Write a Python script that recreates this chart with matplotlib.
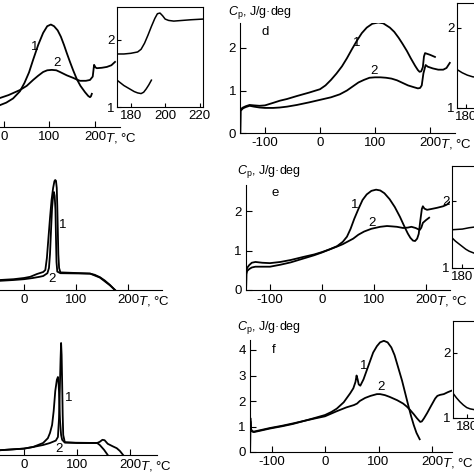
import matplotlib
matplotlib.use("Agg")
import matplotlib.pyplot as plt

plt.rcParams['font.family'] = ['Liberation Sans', 'DejaVu Sans']
plt.rcParams['mathtext.fontset'] = 'custom'
plt.rcParams['mathtext.rm'] = 'Liberation Sans'
plt.rcParams['mathtext.it'] = 'Liberation Sans:italic'
plt.rcParams['font.size'] = 10
plt.rcParams['axes.unicode_minus'] = False

# ---- data (T in degC, Cp in J/g.deg) ----
x_ticks = [-100, 0, 100, 200]
x_tick_labels = ['-100', '0', '100', '200']
inset_x_ticks = [180, 200, 220]
inset_y_ticks = [1, 2]

# panel a (left top, cropped)
a1_T = [-20, -9, 5, 20, 35, 45, 55, 64, 75, 86, 95, 103, 110, 118, 125, 132, 138, 145, 152, 160, 168, 178, 185, 189, 191, 193]
a1_cp = [0.45, 0.52, 0.58, 0.68, 0.85, 1.05, 1.3, 1.6, 1.95, 2.24, 2.4, 2.44, 2.4, 2.3, 2.15, 1.95, 1.76, 1.55, 1.35, 1.14, 0.98, 0.83, 0.74, 0.71, 0.73, 0.79]
a2_T = [-20, -9, 10, 35, 50, 64, 75, 86, 95, 105, 115, 123, 138, 152, 160, 167, 180, 189, 195, 198, 201, 204, 215, 226, 236, 244]
a2_cp = [0.66, 0.69, 0.76, 0.88, 0.98, 1.12, 1.22, 1.31, 1.35, 1.36, 1.35, 1.31, 1.23, 1.17, 1.13, 1.1, 1.1, 1.12, 1.2, 1.48, 1.42, 1.4, 1.41, 1.43, 1.47, 1.55]
a_in_up_T = [172, 176, 180, 184, 186, 188, 190, 192, 194, 195.5, 197, 198.5, 200, 202, 205, 210, 215, 222]
a_in_up_cp = [1.79, 1.79, 1.8, 1.82, 1.86, 1.95, 2.07, 2.2, 2.32, 2.39, 2.4, 2.36, 2.31, 2.29, 2.28, 2.29, 2.3, 2.31]
a_in_lo_T = [172, 174, 176, 178, 180, 182, 184, 186, 187.5, 189, 190.5, 192]
a_in_lo_cp = [1.40, 1.36, 1.32, 1.29, 1.26, 1.23, 1.21, 1.2, 1.22, 1.27, 1.33, 1.40]

# panel b (left middle)
b1_T = [-60, -46, -20, 0, 12, 25, 37, 41, 44, 47, 50, 53, 56, 58.5, 60, 61.5, 63, 64, 65, 66, 67.5, 70, 90, 110, 127, 136, 146, 155, 165, 175]
b1_y = [0.22, 0.25, 0.27, 0.3, 0.33, 0.4, 0.45, 0.5, 0.8, 1.3, 1.8, 2.25, 2.55, 2.72, 2.75, 2.73, 2.55, 2.1, 1.5, 0.9, 0.55, 0.44, 0.43, 0.42, 0.41, 0.38, 0.32, 0.24, 0.13, 0.0]
b2_T = [-60, -46, -20, 0, 17, 30, 37, 45, 48, 50, 52, 54, 56, 57.5, 59, 60.5, 61.5, 62.5, 64, 70, 127, 146, 165, 175]
b2_y = [0.2, 0.23, 0.25, 0.27, 0.3, 0.33, 0.35, 0.42, 0.55, 0.9, 1.5, 2.05, 2.35, 2.45, 2.35, 2.0, 1.3, 0.7, 0.46, 0.42, 0.41, 0.31, 0.12, 0.0]

# panel c (left bottom)
c1_T = [-60, -45, 0, 17, 36, 49, 60, 64, 66, 67.5, 69, 70, 71, 72, 73, 74, 77, 100, 138, 143, 151, 158]
c1_y = [0.1, 0.12, 0.16, 0.2, 0.25, 0.3, 0.36, 0.45, 0.9, 1.6, 2.4, 2.8, 2.5, 1.8, 1.0, 0.5, 0.32, 0.3, 0.3, 0.25, 0.13, 0.0]
c2_T = [-60, -45, 0, 17, 36, 45, 49, 53, 56, 59, 62, 64, 65, 66, 67, 68, 70, 72, 77, 138, 143, 148, 152, 158, 167, 175, 181, 187]
c2_y = [0.1, 0.12, 0.16, 0.2, 0.3, 0.42, 0.55, 0.75, 1.1, 1.6, 1.88, 1.95, 1.85, 1.6, 1.2, 0.85, 0.5, 0.38, 0.31, 0.3, 0.33, 0.38, 0.37, 0.28, 0.22, 0.17, 0.1, 0.0]

# panel d
d1_T = [-145, -144.5, -140, -135, -128, -120, -110, -100, -85, -73, -60, -42, -20, 0, 10, 20, 30, 40, 49, 58, 67, 76, 85, 95, 106, 115, 127, 135, 143, 150, 158, 165, 173, 178, 181, 184, 187, 189, 191, 200, 209]
d1_cp = [0, 0.56, 0.6, 0.63, 0.66, 0.65, 0.64, 0.65, 0.71, 0.76, 0.8, 0.87, 0.95, 1.03, 1.12, 1.25, 1.4, 1.57, 1.76, 1.97, 2.17, 2.35, 2.48, 2.57, 2.6, 2.58, 2.48, 2.38, 2.24, 2.1, 1.93, 1.76, 1.58, 1.48, 1.44, 1.45, 1.55, 1.8, 1.88, 1.84, 1.79]
d2_T = [-145, -144.5, -140, -135, -128, -120, -110, -100, -85, -73, -60, -42, -20, 0, 20, 36, 49, 60, 70, 80, 90, 100, 110, 120, 130, 140, 150, 160, 170, 178, 182, 185, 188, 192, 196, 205, 215, 224, 230, 236]
d2_cp = [0, 0.52, 0.58, 0.61, 0.64, 0.62, 0.6, 0.59, 0.59, 0.6, 0.62, 0.66, 0.72, 0.78, 0.84, 0.91, 1.0, 1.1, 1.19, 1.25, 1.3, 1.31, 1.31, 1.3, 1.28, 1.24, 1.18, 1.12, 1.08, 1.05, 1.06, 1.12, 1.4, 1.6, 1.56, 1.52, 1.49, 1.49, 1.53, 1.65]
d_in_T = [175, 178, 181, 184, 187, 190, 195]
d_in_cp = [1.48, 1.44, 1.41, 1.39, 1.38, 1.40, 1.5]

# panel e
e1_T = [-146, -145.5, -144, -140, -135, -128, -115, -100, -80, -60, -35, -15, 0, 15, 29, 40, 48, 55, 62, 70, 78, 86, 95, 104, 112, 120, 130, 140, 150, 158, 165, 170, 175, 179, 183, 186, 189, 192, 194, 197, 202, 210, 221, 233, 240, 246]
e1_cp = [0, 0.45, 0.56, 0.63, 0.69, 0.71, 0.69, 0.68, 0.71, 0.76, 0.84, 0.9, 0.96, 1.03, 1.11, 1.22, 1.35, 1.55, 1.8, 2.05, 2.28, 2.42, 2.51, 2.54, 2.52, 2.45, 2.3, 2.1, 1.85, 1.62, 1.43, 1.32, 1.25, 1.24, 1.3, 1.42, 1.75, 2.05, 2.12, 2.06, 2.03, 2.05, 2.08, 2.12, 2.16, 2.23]
e2_T = [-146, -145.5, -144, -140, -135, -128, -115, -100, -80, -60, -35, -15, 0, 15, 29, 40, 50, 60, 70, 81, 95, 112, 125, 135, 144, 156, 165, 172, 180, 188, 191, 194, 200, 206]
e2_cp = [0, 0.4, 0.48, 0.53, 0.57, 0.59, 0.59, 0.59, 0.64, 0.7, 0.8, 0.88, 0.95, 1.03, 1.1, 1.16, 1.23, 1.3, 1.4, 1.48, 1.55, 1.6, 1.62, 1.61, 1.6, 1.57, 1.58, 1.6, 1.57, 1.52, 1.58, 1.7, 1.77, 1.83]
e_in_up_T = [174, 177, 180, 184, 187, 195]
e_in_up_cp = [1.57, 1.575, 1.58, 1.6, 1.61, 1.64]
e_in_lo_T = [174, 176, 178, 180, 182, 184, 187, 192]
e_in_lo_cp = [1.45, 1.4, 1.36, 1.32, 1.28, 1.25, 1.22, 1.2]

# panel f
f1_T = [-140, -139.5, -138.5, -136, -133, -120, -103, -80, -60, -39, -20, 0, 12, 22, 35, 47, 53, 57, 59, 61, 63, 66, 72, 78, 84, 90, 97, 103, 110, 117, 124, 130, 137, 144, 150, 156, 161, 166, 171, 177]
f1_cp = [0, 1.33, 0.9, 0.82, 0.8, 0.86, 0.94, 1.03, 1.12, 1.22, 1.33, 1.45, 1.57, 1.7, 1.95, 2.3, 2.5, 2.75, 3.0, 2.85, 2.65, 2.6, 2.85, 3.2, 3.55, 3.9, 4.15, 4.3, 4.36, 4.3, 4.1, 3.8, 3.3, 2.8, 2.3, 1.8, 1.4, 1.05, 0.75, 0.5]
f2_T = [-140, -139.5, -138.5, -136, -133, -120, -103, -80, -60, -39, -20, 0, 22, 40, 54, 60, 65, 75, 85, 97, 103, 112, 121, 135, 146, 153, 159, 166, 172, 178, 181, 185, 191, 198, 206, 210, 215, 222, 230, 236]
f2_cp = [0, 1.2, 0.88, 0.8, 0.78, 0.84, 0.92, 1.01, 1.1, 1.22, 1.31, 1.4, 1.6, 1.75, 1.84, 1.9, 2.0, 2.12, 2.2, 2.27, 2.27, 2.23, 2.16, 2.03, 1.9, 1.78, 1.65, 1.48, 1.32, 1.18, 1.2, 1.32, 1.53, 1.8, 2.1, 2.2, 2.24, 2.27, 2.35, 2.4]
f_in_T = [172, 174, 176, 178, 180, 182, 184, 188, 192]
f_in_cp = [1.38, 1.31, 1.25, 1.2, 1.16, 1.14, 1.13, 1.12, 1.15]

W = 474.0
LW = 1.3
FS = 9.5
fig = plt.figure(figsize=(4.74, 4.74), dpi=100)


def add_px(left, top, right, bottom):
    return fig.add_axes([left / W, 1 - bottom / W, (right - left) / W, (bottom - top) / W])


def main_axes(xlim, x0, sx, ylim, y0, sy, yticks=None):
    ax = add_px(x0 + sx * xlim[0], y0 - sy * ylim[1], x0 + sx * xlim[1], y0 - sy * ylim[0])
    ax.set_xlim(xlim)
    ax.set_ylim(ylim)
    ax.patch.set_alpha(0)
    for s in ['top', 'right']:
        ax.spines[s].set_visible(False)
    for s in ['left', 'bottom']:
        ax.spines[s].set_linewidth(0.8)
    ax.tick_params(direction='in', length=4, width=0.8, labelsize=FS, pad=3)
    ax.set_xticks(x_ticks, x_tick_labels)
    if yticks is not None:
        ax.set_yticks(yticks, [str(v) for v in yticks])
    else:
        ax.set_yticks([])
    ax.annotate('$T$, °C', xy=(200, 0), xycoords=('data', 'axes fraction'),
                xytext=(7, -3), textcoords='offset points', ha='left', va='top', fontsize=FS)
    return ax


def inset_axes(left, top, right, bottom, xlim, ylim):
    ax = add_px(left, top, right, bottom)
    ax.set_xlim(xlim)
    ax.set_ylim(ylim)
    for s in ax.spines.values():
        s.set_linewidth(0.8)
    ax.tick_params(direction='in', length=3, width=0.8, labelsize=FS, pad=2)
    ax.set_xticks(inset_x_ticks, [str(v) for v in inset_x_ticks])
    ax.set_yticks(inset_y_ticks, [str(v) for v in inset_y_ticks])
    return ax


def ylabel(ax, x_px_off, y_px_off):
    ax.annotate('$C_\\mathrm{p}$, J/g·deg', xy=(0, 1), xycoords='axes fraction',
                xytext=(x_px_off * 72 / 100, y_px_off * 72 / 100), textcoords='offset points',
                ha='left', va='center', fontsize=9)


# panel a
ax = main_axes((-145, 255), 4, 0.455, (0, 2.6), 127, 42)
ax.plot(a1_T, a1_cp, color='black', lw=LW)
ax.plot(a2_T, a2_cp, color='black', lw=LW)
ax.text(68, 1.9, '1', ha='center', va='center', fontsize=FS)
ax.text(116, 1.52, '2', ha='center', va='center', fontsize=FS)
ax = inset_axes(117, 7, 203, 107, (172, 222), (1, 2.49))
ax.plot(a_in_up_T, a_in_up_cp, color='black', lw=1.1)
ax.plot(a_in_lo_T, a_in_lo_cp, color='black', lw=1.1)

# panel b
ax = main_axes((-145, 265), 24, 0.52, (0, 3), 290, 40)
ax.plot(b1_T, b1_y, color='black', lw=LW)
ax.plot(b2_T, b2_y, color='black', lw=LW)
ax.text(75, 1.63, '1', ha='center', va='center', fontsize=FS)
ax.text(54, 0.28, '2', ha='center', va='center', fontsize=FS)

# panel c
ax = main_axes((-145, 250), 24, 0.53, (0, 3), 455, 40)
ax.plot(c1_T, c1_y, color='black', lw=LW)
ax.plot(c2_T, c2_y, color='black', lw=LW)
ax.text(85, 1.43, '1', ha='center', va='center', fontsize=FS)
ax.text(66, 0.15, '2', ha='center', va='center', fontsize=FS)

# panel d
ax = main_axes((-145, 245), 320, 0.55, (0, 2.6), 133, 42.5, [0, 1, 2])
ax.plot(d1_T, d1_cp, color='black', lw=LW)
ax.plot(d2_T, d2_cp, color='black', lw=LW)
ax.text(67, 2.12, '1', ha='center', va='center', fontsize=FS)
ax.text(98, 1.46, '2', ha='center', va='center', fontsize=FS)
ax.text(-100, 2.38, 'd', ha='center', va='center', fontsize=FS)
ylabel(ax, -12, 10)
ax = inset_axes(457, 3, 543, 108, (175, 225), (1, 2.31))
ax.plot(d_in_T, d_in_cp, color='black', lw=1.1)

# panel e
ax = main_axes((-146, 246), 322, 0.52, (0, 2.66), 290, 39.5, [0, 1, 2])
ax.plot(e1_T, e1_cp, color='black', lw=LW)
ax.plot(e2_T, e2_cp, color='black', lw=LW)
ax.text(63, 2.15, '1', ha='center', va='center', fontsize=FS)
ax.text(96, 1.7, '2', ha='center', va='center', fontsize=FS)
ax.text(-90, 2.46, 'e', ha='center', va='center', fontsize=FS)
ylabel(ax, -9, 13)
ax = inset_axes(452, 166, 538, 268, (174, 224), (1, 2.52))
ax.plot(e_in_up_T, e_in_up_cp, color='black', lw=1.1)
ax.plot(e_in_lo_T, e_in_lo_cp, color='black', lw=1.1)

# panel f
ax = main_axes((-140, 237), 325, 0.535, (0, 4.4), 452, 25.5, [0, 1, 2, 3, 4])
ax.plot(f1_T, f1_cp, color='black', lw=LW)
ax.plot(f2_T, f2_cp, color='black', lw=LW)
ax.text(73, 3.37, '1', ha='center', va='center', fontsize=FS)
ax.text(105, 2.55, '2', ha='center', va='center', fontsize=FS)
ax.text(-95, 4.0, 'f', ha='center', va='center', fontsize=FS)
ylabel(ax, -13, 12)
ax = inset_axes(453, 321, 539, 418, (172, 222), (1, 2.49))
ax.plot(f_in_T, f_in_cp, color='black', lw=1.1)

fig.savefig('out.png', dpi=100)
